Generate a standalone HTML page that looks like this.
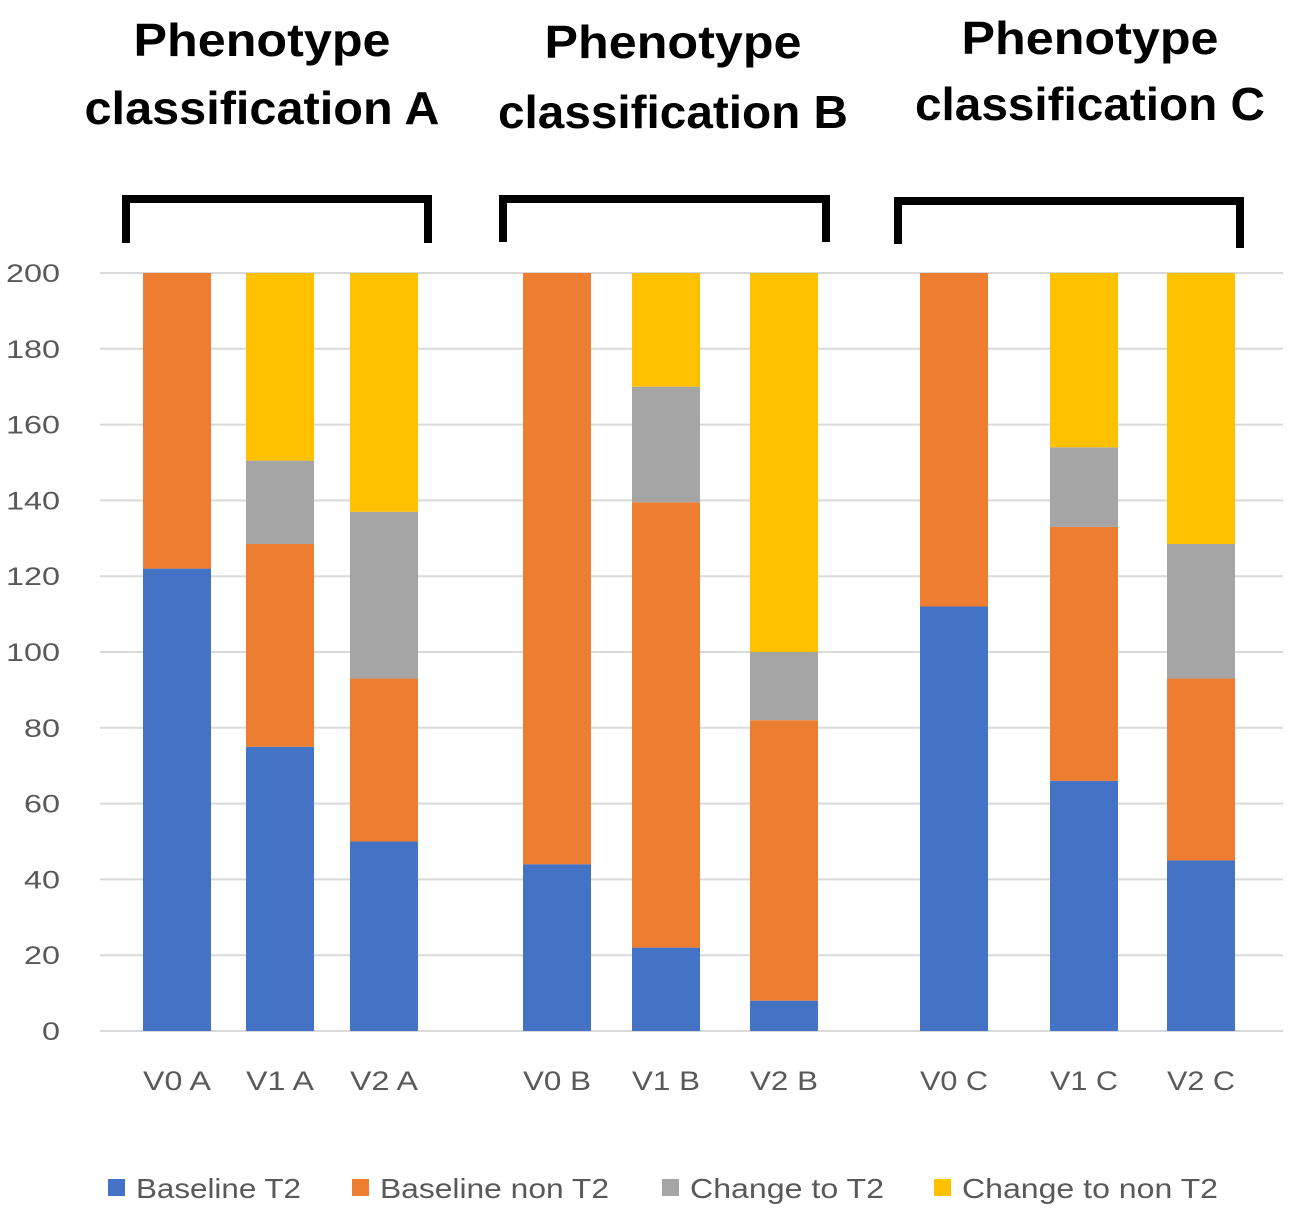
<!DOCTYPE html>
<html><head><meta charset="utf-8"><style>
html,body{margin:0;padding:0;background:#fff;}
svg{display:block;font-family:"Liberation Sans",sans-serif;}
</style></head><body>
<svg id="chart" width="1305" height="1223" viewBox="0 0 1305 1223">
<g id="titles" font-weight="bold" font-size="46" fill="#000" text-anchor="middle" lengthAdjust="spacingAndGlyphs">
<text x="262" y="56" textLength="257" lengthAdjust="spacingAndGlyphs">Phenotype</text>
<text x="262" y="124" textLength="355" lengthAdjust="spacingAndGlyphs">classification A</text>
<text x="673" y="58" textLength="257" lengthAdjust="spacingAndGlyphs">Phenotype</text>
<text x="673" y="128" textLength="350" lengthAdjust="spacingAndGlyphs">classification B</text>
<text x="1090" y="54" textLength="257" lengthAdjust="spacingAndGlyphs">Phenotype</text>
<text x="1090" y="120" textLength="350" lengthAdjust="spacingAndGlyphs">classification C</text>
</g>
<g fill="none" stroke="#000" stroke-width="8">
<path d="M126,243 V199 H428 V243"/>
<path d="M503,242 V199 H826 V242"/>
<path d="M898,244 V201 H1240 V248"/>
</g>
<g id="grid"></g>
<g id="yticks"></g>
<g id="bars"></g>
<g id="xlabels"></g>
<g id="legend"></g>
</svg>
<script>
const categories = ["V0 A","V1 A","V2 A","V0 B","V1 B","V2 B","V0 C","V1 C","V2 C"];
const baselineT2 = [122,75,50,44,22,8,112,66,45];
const baselineNonT2 = [78,53.5,43,156,117.5,74,88,67,48];
const changeToT2 = [0,22,44,0,30.5,18,0,21,35.5];
const changeToNonT2 = [0,49.5,63,0,30,100,0,46,71.5];
const yTicks = [0,20,40,60,80,100,120,140,160,180,200];
const seriesNames = ["Baseline T2","Baseline non T2","Change to T2","Change to non T2"];
const colors = ["#4472c4","#ed7d31","#a5a5a5","#ffc000"];
const barCenters = [177,280,384,557,666,784,954,1084,1201];
const barWidth = 68;
const y0 = 1031, y200 = 273;
const yScale = v => y0 - (v/200)*(y0-y200);
const NS = "http://www.w3.org/2000/svg";
function mk(tag, attrs, parent){const e=document.createElementNS(NS,tag);for(const k in attrs)e.setAttribute(k,attrs[k]);parent.appendChild(e);return e;}
const grid=document.getElementById("grid"), yt=document.getElementById("yticks");
yTicks.forEach(t=>{
  const l=mk("line",{x1:100,x2:1283,y1:yScale(t),y2:yScale(t),stroke:"#d9d9d9","stroke-width":2},grid);
  
  
  const s=String(t);
  const tx=mk("text",{x:60,y:yScale(t)+9,"text-anchor":"end","font-size":25,fill:"#595959",textLength:s.length*18,lengthAdjust:"spacingAndGlyphs"},yt);
  tx.textContent=t;
  
  
});
const series=[baselineT2,baselineNonT2,changeToT2,changeToNonT2];
const bars=document.getElementById("bars"), xl=document.getElementById("xlabels");
categories.forEach((c,i)=>{
  let acc=0;
  series.forEach((s,j)=>{
    const v=s[i]; if(v<=0) return;
    const r=mk("rect",{x:barCenters[i]-barWidth/2,y:yScale(acc+v),width:barWidth,height:yScale(acc)-yScale(acc+v),fill:colors[j]},bars);
    
    
    acc+=v;
  });
  const t=mk("text",{x:barCenters[i],y:1090,"text-anchor":"middle","font-size":27,fill:"#595959",textLength:68,lengthAdjust:"spacingAndGlyphs"},xl);
  t.textContent=c;
  
  
});
const lg=document.getElementById("legend");
const lx=[108,352,662,934];
const lw=[165,229,194,256];
seriesNames.forEach((n,j)=>{
  const r=mk("rect",{x:lx[j],y:1179,width:17,height:17,fill:colors[j]},lg);
  
  
  const t=mk("text",{x:lx[j]+28,y:1198,"font-size":28,fill:"#595959",textLength:lw[j],lengthAdjust:"spacingAndGlyphs"},lg);
  t.textContent=n;
  
  
});
</script>
</body></html>
